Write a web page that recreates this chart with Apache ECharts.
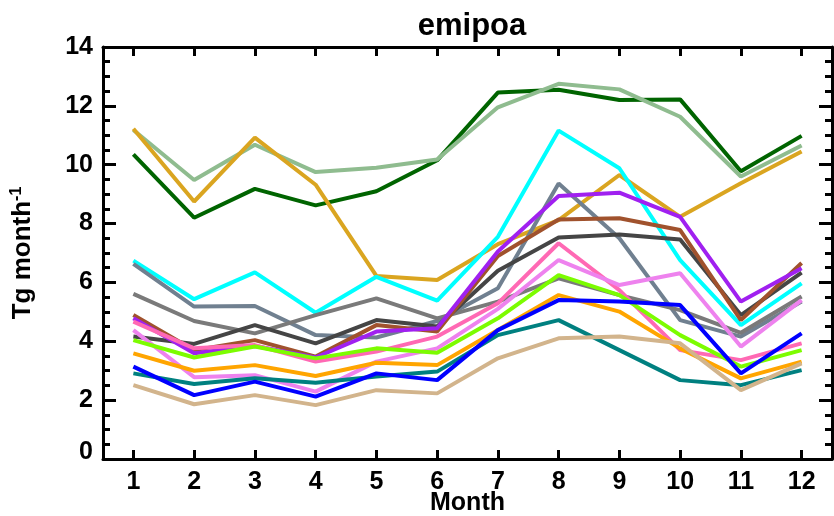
<!DOCTYPE html>
<html>
<head>
<meta charset="utf-8">
<script src="https://cdn.jsdelivr.net/npm/echarts@6/dist/echarts.min.js"></script>
<style>
  html, body { margin: 0; padding: 0; background: #fff; }
  #chart { width: 834px; height: 516px; }
</style>
</head>
<body>
<div id="chart"></div>
<script>
// Monthly emission totals for primary organic aerosol (Tg per month)
const months = ['1', '2', '3', '4', '5', '6', '7', '8', '9', '10', '11', '12'];
const yTicks = [0, 2, 4, 6, 8, 10, 12, 14];

const darkGreen     = [10.35, 8.2, 9.18, 8.62, 9.1, 10.15, 12.45, 12.55, 12.2, 12.22, 9.78, 10.98];
const seaGreen      = [11.18, 9.48, 10.68, 9.75, 9.9, 10.18, 11.95, 12.75, 12.56, 11.63, 9.6, 10.65];
const goldenrod     = [11.22, 8.75, 10.92, 9.32, 6.22, 6.08, 7.3, 8.12, 9.65, 8.23, 9.37, 10.45];
const cyan          = [6.74, 5.43, 6.34, 4.97, 6.19, 5.38, 7.55, 11.16, 9.88, 6.76, 4.55, 5.97];
const slateGray     = [6.63, 5.18, 5.2, 4.21, 4.13, 4.69, 5.8, 9.36, 7.5, 4.72, 4.16, 5.35];
const gray          = [5.61, 4.69, 4.27, 4.89, 5.46, 4.78, 5.35, 6.14, 5.57, 5.06, 4.29, 5.52];
const darkGray      = [4.16, 3.91, 4.55, 3.93, 4.72, 4.5, 6.4, 7.53, 7.63, 7.46, 4.89, 6.33];
const sienna        = [4.89, 3.7, 4.04, 3.48, 4.55, 4.33, 6.9, 8.14, 8.18, 7.78, 4.72, 6.66];
const purple        = [4.78, 3.59, 3.84, 3.45, 4.33, 4.44, 7.05, 8.94, 9.05, 8.23, 5.35, 6.48];
const hotPink       = [4.67, 3.76, 3.87, 3.31, 3.65, 4.16, 5.29, 7.33, 5.74, 3.7, 3.36, 3.93];
const violet        = [4.38, 2.78, 2.85, 2.29, 3.31, 3.76, 5.1, 6.76, 5.91, 6.31, 3.82, 5.4];
const lawnGreen     = [4.04, 3.45, 3.82, 3.42, 3.76, 3.61, 4.78, 6.25, 5.57, 4.21, 3.14, 3.7];
const orange        = [3.59, 3.0, 3.19, 2.82, 3.27, 3.19, 4.38, 5.57, 5.01, 3.76, 2.74, 3.31];
const blue          = [3.14, 2.17, 2.63, 2.12, 2.91, 2.68, 4.38, 5.4, 5.35, 5.23, 2.91, 4.27];
const teal          = [2.91, 2.55, 2.74, 2.59, 2.8, 2.97, 4.21, 4.72, 3.7, 2.68, 2.51, 3.02];
const tan           = [2.51, 1.86, 2.17, 1.83, 2.34, 2.23, 3.42, 4.1, 4.16, 3.93, 2.34, 3.25];

const seriesList = [
  { data: darkGreen, color: '#006400' },
  { data: seaGreen,  color: '#8FBC8F' },
  { data: goldenrod, color: '#DAA520' },
  { data: cyan,      color: '#00FFFF' },
  { data: slateGray, color: '#708090' },
  { data: gray,      color: '#7A7A7A' },
  { data: darkGray,  color: '#454545' },
  { data: sienna,    color: '#A0522D' },
  { data: purple,    color: '#A020F0' },
  { data: hotPink,   color: '#FF69B4' },
  { data: violet,    color: '#EE82EE' },
  { data: lawnGreen, color: '#7CFC00' },
  { data: orange,    color: '#FFA500' },
  { data: teal,      color: '#008080' },
  { data: blue,      color: '#0000FF' },
  { data: tan,       color: '#D2B48C' }
];

const FONT = 'Liberation Sans';
const frameLine = { show: true, onZero: false, lineStyle: { color: '#000', width: 3 } };

const chart = echarts.init(document.getElementById('chart'), null, { renderer: 'canvas' });

chart.setOption({
  animation: false,
  backgroundColor: '#fff',
  title: {
    text: 'emipoa',
    left: 467,
    top: 6,
    textAlign: 'center',
    textStyle: { fontFamily: FONT, fontWeight: 'bold', fontSize: 31, color: '#000' }
  },
  grid: { left: 103, right: 2, top: 47, bottom: 57, containLabel: false, outerBoundsMode: 'none' },
  xAxis: [
    {
      type: 'category',
      data: months,
      boundaryGap: true,
      position: 'bottom',
      axisLine: frameLine,
      axisTick: { show: true, inside: true, alignWithLabel: true, length: 9, lineStyle: { color: '#000', width: 3 } },
      axisLabel: { margin: 11, fontFamily: FONT, fontWeight: 'bold', fontSize: 25, color: '#000' },
      splitLine: { show: false },
      name: 'Month',
      nameLocation: 'middle',
      nameMoveOverlap: false,
      nameGap: 32,
      nameTextStyle: { fontFamily: FONT, fontWeight: 'bold', fontSize: 25, color: '#000' }
    },
    {
      type: 'category',
      data: months,
      boundaryGap: true,
      position: 'top',
      axisLine: frameLine,
      axisTick: { show: true, inside: true, alignWithLabel: true, length: 9, lineStyle: { color: '#000', width: 3 } },
      axisLabel: { show: false },
      splitLine: { show: false }
    }
  ],
  yAxis: [
    {
      type: 'value',
      min: yTicks[0],
      max: yTicks[yTicks.length - 1],
      interval: 2,
      position: 'left',
      axisLine: frameLine,
      axisTick: { show: true, inside: true, length: 13, lineStyle: { color: '#000', width: 3 } },
      minorTick: { show: true, splitNumber: 4, length: 7, lineStyle: { color: '#000', width: 3 } },
      axisLabel: {
        margin: 10,
        fontFamily: FONT, fontWeight: 'bold', fontSize: 25, color: '#000',
        formatter: v => (v === 0 ? '{z|0}' : String(v)),
        rich: { z: { fontFamily: FONT, fontWeight: 'bold', fontSize: 25, color: '#000', padding: [0, 0, 14, 0] } }
      },
      splitLine: { show: false },
      name: '{a|Tg month}{s|-1}',
      nameLocation: 'middle',
      nameMoveOverlap: false,
      nameGap: 66,
      nameTextStyle: {
        rich: {
          a: { fontFamily: FONT, fontWeight: 'bold', fontSize: 26, color: '#000' },
          s: { fontFamily: FONT, fontWeight: 'bold', fontSize: 16, color: '#000', verticalAlign: 'top', padding: [0, 0, 12, 0] }
        }
      }
    },
    {
      type: 'value',
      min: yTicks[0],
      max: yTicks[yTicks.length - 1],
      interval: 2,
      position: 'right',
      axisLine: frameLine,
      axisTick: { show: true, inside: true, length: 13, lineStyle: { color: '#000', width: 3 } },
      minorTick: { show: true, splitNumber: 4, length: 7, lineStyle: { color: '#000', width: 3 } },
      axisLabel: { show: false },
      splitLine: { show: false }
    }
  ],
  series: seriesList.map(s => ({
    type: 'line',
    data: s.data,
    xAxisIndex: 0,
    yAxisIndex: 0,
    symbol: 'none',
    smooth: false,
    lineStyle: { color: s.color, width: 4 },
    itemStyle: { color: s.color }
  }))
});
</script>
</body>
</html>
